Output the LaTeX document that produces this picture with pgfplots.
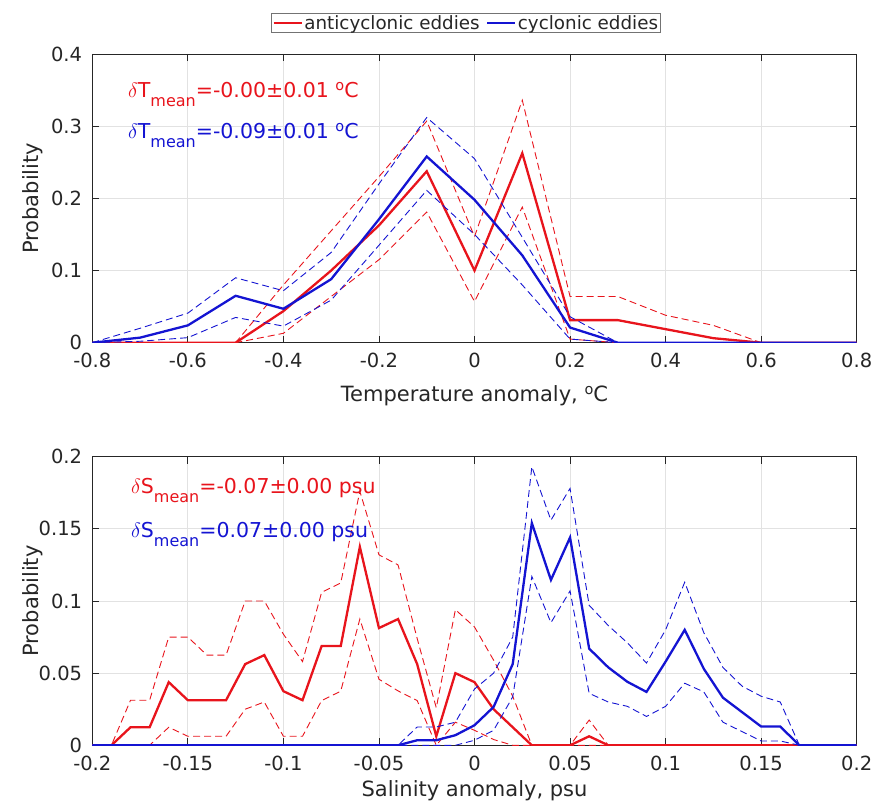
\documentclass[border=0pt]{standalone}
\usepackage{fontspec}
\setmainfont{DejaVu Sans}
\usepackage{pgfplots}
\usepackage{pgfplotstable}
\pgfplotsset{compat=1.18}
\definecolor{mred}{HTML}{E8141C}
\definecolor{mblue}{HTML}{1414D2}
\definecolor{axgray}{HTML}{262626}
\definecolor{gridc}{HTML}{E2E2E2}

% temperature anomaly: x, red (solid, upper, lower), blue (solid, upper, lower)
\pgfplotstableread{
x     rs       ru      rl      bs      bu      bl
-0.8  0        0       0       0       0       0
-0.7  0        0       0       0.007   0.020   0.002
-0.6  0        0       0       0.024   0.041   0.007
-0.5  0        0       0       0.065   0.090   0.035
-0.4  0.04375  0.080   0.013   0.047   0.072   0.023
-0.3  0.1      0.155   0.064   0.088   0.125   0.059
-0.2  0.1625   0.230   0.115   0.171   0.220   0.135
-0.1  0.2375   0.307   0.181   0.258   0.312   0.211
 0.0  0.1      0.147   0.057   0.198   0.255   0.150
 0.1  0.2625   0.336   0.188   0.121   0.146   0.080
 0.2  0.03125  0.064   0.005   0.021   0.036   0.005
 0.3  0.03125  0.064   0       0       0       0
 0.4  0.01875  0.038   0       0       0       0
 0.5  0.00625  0.024   0       0       0       0
 0.6  0        0       0       0       0       0
 0.7  0        0       0       0       0       0
 0.8  0        0       0       0       0       0
}\temptab

% salinity anomaly
\pgfplotstableread{
x      rs       ru      rl      bs      bu      bl
-0.20  0        0       0       0       0       0
-0.19  0        0       0       0       0       0
-0.18  0.0125   0.03125 0       0       0       0
-0.17  0.0125   0.03125 0       0       0       0
-0.16  0.04375  0.075   0.0125  0       0       0
-0.15  0.03125  0.075   0.00625 0       0       0
-0.14  0.03125  0.0625  0.00625 0       0       0
-0.13  0.03125  0.0625  0.00625 0       0       0
-0.12  0.05625  0.1     0.025   0       0       0
-0.11  0.0625   0.1     0.030   0       0       0
-0.10  0.0375   0.077   0.00625 0       0       0
-0.09  0.03125  0.058   0.00625 0       0       0
-0.08  0.06875  0.106   0.031   0       0       0
-0.07  0.06875  0.1125  0.0375  0       0       0
-0.06  0.1375   0.176   0.0875  0       0       0
-0.05  0.08125  0.132   0.0458  0       0       0
-0.04  0.0875   0.125   0.0377  0       0       0
-0.03  0.05625  0.074   0.031   0.0035  0.0127  0
-0.02  0.00625  0.026   0       0.0035  0.0127  0
-0.01  0.05     0.094   0.016   0.007   0.016   0
 0.00  0.04375  0.082   0.0104  0.0139  0.039   0.0035
 0.01  0.025    0.059   0.004   0.0266  0.050   0.0104
 0.02  0.0125   0.034   0       0.0563  0.075   0.0336
 0.03  0        0       0       0.154   0.193   0.117
 0.04  0        0       0       0.1146  0.156   0.085
 0.05  0        0       0       0.144   0.178   0.107
 0.06  0.00625  0.0175  0       0.067   0.097   0.036
 0.07  0        0       0       0.054   0.083   0.030
 0.08  0        0       0       0.044   0.071   0.027
 0.09  0        0       0       0.037   0.057   0.020
 0.10  0        0       0       0.058   0.080   0.027
 0.11  0        0       0       0.080   0.113   0.043
 0.12  0        0       0       0.053   0.078   0.037
 0.13  0        0       0       0.033   0.054   0.016
 0.14  0        0       0       0.023   0.041   0.0095
 0.15  0        0       0       0.013   0.034   0.003
 0.16  0        0       0       0.013   0.030   0.003
 0.17  0        0       0       0       0       0
 0.18  0        0       0       0       0       0
 0.19  0        0       0       0       0       0
 0.20  0        0       0       0       0       0
}\saltab

\tikzset{
  solidl/.style={line width=2.3pt},
  dashl/.style={line width=0.9pt, dash pattern=on 7pt off 4pt},
  anno/.style={anchor=base west, inner sep=0pt, font=\fontsize{20.5}{23}\selectfont},
}
\pgfplotsset{
  mlab/.style={
    scale only axis, width=764.4pt, height=288.7pt,
    axis line style={draw=axgray, line width=0.8pt},
    tick style={draw=axgray, line width=0.8pt},
    tick align=inside, major tick length=7pt,
    grid=major, grid style={draw=gridc, line width=0.8pt},
    ticklabel style={font=\fontsize{19.5}{22}\selectfont, text=axgray},
    xticklabel style={anchor=base, inner sep=0pt, yshift=-25pt},
    yticklabel style={anchor=east, inner sep=0pt, xshift=-10pt},
    label style={font=\fontsize{21}{24}\selectfont, text=axgray},
    ylabel style={at={(axis description cs:-0.0776,0.5)}, anchor=center},
    ylabel={Probability},
  },
}
\newcommand{\sub}[1]{\raisebox{-9pt}{\fontsize{16}{18}\selectfont #1}}
\newcommand{\degc}{\raisebox{7pt}{\fontsize{14.5}{16}\selectfont o}C}

\begin{document}
\begin{tikzpicture}[x=1pt,y=1pt]
\useasboundingbox (0,0) rectangle (877,803);

\begin{axis}[mlab, at={(92.3pt,460.3pt)}, anchor=south west,
  xmin=-0.8, xmax=0.8, ymin=0, ymax=0.4,
  xtick={-0.8,-0.6,-0.4,-0.2,0,0.2,0.4,0.6,0.8},
  xticklabels={-0.8,-0.6,-0.4,-0.2,0,0.2,0.4,0.6,0.8},
  ytick={0,0.1,0.2,0.3,0.4}, yticklabels={0,0.1,0.2,0.3,0.4},
  xlabel={Temperature anomaly, \degc},
  xlabel style={at={(axis description cs:0.5,-0.202)}, anchor=base},
  legend columns=2,
  legend image code/.code={\draw[#1] (0pt,0pt) -- (28pt,0pt);},
  legend style={at={(axis description cs:0.489,1.107)}, anchor=center,
    draw=black!55, line width=0.8pt, fill=white,
    font=\fontsize{18.3}{20}\selectfont, text=axgray,
    inner xsep=1pt, inner ysep=0.5pt, nodes={inner sep=1.5pt},
    /tikz/every even column/.append style={column sep=5pt}},
  ]
  \addplot[mred, solidl] table[x=x, y=rs] {\temptab};
  \addlegendentry{anticyclonic eddies}
  \addplot[mred, dashl, forget plot] table[x=x, y=ru] {\temptab};
  \addplot[mred, dashl, forget plot] table[x=x, y=rl] {\temptab};
  \addplot[mblue, solidl] table[x=x, y=bs] {\temptab};
  \addlegendentry{cyclonic eddies}
  \addplot[mblue, dashl, forget plot] table[x=x, y=bu] {\temptab};
  \addplot[mblue, dashl, forget plot] table[x=x, y=bl] {\temptab};
  \node[anno, text=mred] at (rel axis cs:0.0467,0.848)
    {$\delta$T\sub{mean}=-0.00±0.01 \degc};
  \node[anno, text=mblue] at (rel axis cs:0.0467,0.709)
    {$\delta$T\sub{mean}=-0.09±0.01 \degc};
\end{axis}

\begin{axis}[mlab, at={(92.3pt,57.7pt)}, anchor=south west, height=288.6pt,
  xmin=-0.2, xmax=0.2, ymin=0, ymax=0.2,
  xtick={-0.2,-0.15,-0.1,-0.05,0,0.05,0.1,0.15,0.2},
  xticklabels={-0.2,-0.15,-0.1,-0.05,0,0.05,0.1,0.15,0.2},
  ytick={0,0.05,0.1,0.15,0.2}, yticklabels={0,0.05,0.1,0.15,0.2},
  xlabel={Salinity anomaly, psu},
  xlabel style={at={(axis description cs:0.5,-0.179)}, anchor=base},
  ]
  \addplot[mred, solidl] table[x=x, y=rs] {\saltab};
  \addplot[mred, dashl] table[x=x, y=ru] {\saltab};
  \addplot[mred, dashl] table[x=x, y=rl] {\saltab};
  \addplot[mblue, solidl] table[x=x, y=bs] {\saltab};
  \addplot[mblue, dashl] table[x=x, y=bu] {\saltab};
  \addplot[mblue, dashl] table[x=x, y=bl] {\saltab};
  \node[anno, text=mred] at (rel axis cs:0.0506,0.872)
    {$\delta$S\sub{mean}=-0.07±0.00 psu};
  \node[anno, text=mblue] at (rel axis cs:0.0506,0.719)
    {$\delta$S\sub{mean}=0.07±0.00 psu};
\end{axis}
\end{tikzpicture}
\end{document}
